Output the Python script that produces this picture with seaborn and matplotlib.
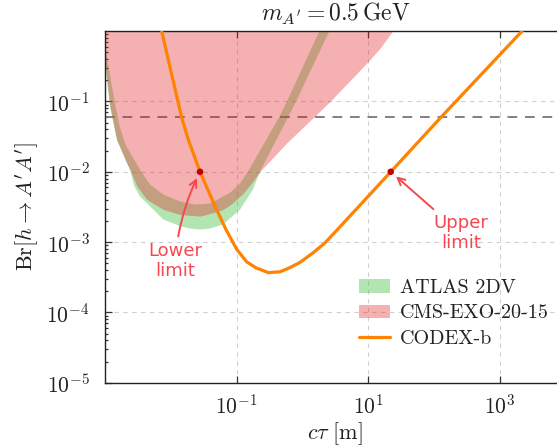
import numpy as np
import matplotlib
matplotlib.use("Agg")
import matplotlib.pyplot as plt
import seaborn as sns
from matplotlib.patches import Patch
from matplotlib.lines import Line2D
from matplotlib.ticker import FixedLocator, NullLocator, LogLocator, NullFormatter

# ---------------- data ----------------
# CODEX-b sensitivity curve
codex_ctau = [0.00728, 0.01026, 0.01466, 0.01845, 0.0278, 0.0470, 0.0690, 0.1005,
              0.1422, 0.197, 0.303, 0.457, 0.649, 0.920, 1.466, 2.203, 3.32, 22.0,
              125.6, 2173.0]
codex_br = [1.0, 0.247, 0.0587, 0.0286, 0.0100, 0.00324, 0.00151, 0.000788,
            0.000524, 0.000431, 0.000368, 0.000378, 0.000434, 0.000515, 0.000708,
            0.000975, 0.001466, 0.00998, 0.0587, 1.0]

# ATLAS 2DV band: outer (lower) edge and inner (upper) edge
atlas_out_ctau = [0.00100, 0.00119, 0.00151, 0.00214, 0.00240, 0.00276, 0.00340, 0.00483,
                  0.00769, 0.0138, 0.0196, 0.0278, 0.0394, 0.0621, 0.113, 0.177, 0.227,
                  0.604, 0.800, 2.564]
atlas_out_br = [0.343, 0.0849, 0.0286, 0.0134, 0.0107, 0.00637, 0.00445, 0.00324,
                0.00210, 0.00169, 0.00156, 0.00151, 0.00156, 0.00178, 0.00291, 0.00560, 0.01016,
                0.0593, 0.100, 1.0]
atlas_in_ctau = [0.00100, 0.00119, 0.00142, 0.00169, 0.00208, 0.00267, 0.00340, 0.00483,
                 0.00769, 0.0138, 0.0233, 0.0394, 0.0794, 0.113, 0.149, 0.441, 0.583, 1.807]
atlas_in_br = [0.637, 0.239, 0.0927, 0.0424, 0.0236, 0.0159, 0.0107, 0.00658,
               0.00475, 0.00378, 0.00343, 0.00354, 0.00502, 0.00681, 0.01007, 0.0593, 0.100, 1.0]

# CMS-EXO-20-15 excluded region: lower boundary
cms_ctau = [0.00100, 0.00119, 0.00151, 0.00214, 0.00240, 0.00306, 0.00431, 0.00769,
            0.0138, 0.0278, 0.0394, 0.0621, 0.0851, 0.125, 0.177, 0.227, 0.577, 1.466,
            2.624, 9.48, 15.1, 23.4]
cms_br = [0.343, 0.0849, 0.0286, 0.0134, 0.0107, 0.00622, 0.00404, 0.00291,
          0.00247, 0.00234, 0.00255, 0.00291, 0.00354, 0.00491, 0.00733, 0.01016, 0.0257, 0.0593,
          0.100, 0.351, 0.571, 1.0]

# marked lower / upper limits
limit_ctau = [0.0278, 22.0]
limit_br = [0.01, 0.01]

br_invisible = 0.06

x_ticks = [1e-1, 1e1, 1e3]
y_ticks = [1e-5, 1e-4, 1e-3, 1e-2, 1e-1]
legend_labels = ["ATLAS 2DV", "CMS-EXO-20-15", "CODEX-b"]

# ---------------- style ----------------
sns.set_style("ticks")
plt.rcParams.update({
    "font.family": ["cmr10", "DejaVu Serif"],
    "mathtext.fontset": "cm",
    "axes.formatter.use_mathtext": True,
    "axes.unicode_minus": True,
})

green = "#41be41"
red = "#e41a1c"
orange = "#ff8200"
hand = "#f5474f"

fig = plt.figure(figsize=(5.57, 4.46), dpi=100)
ax = fig.add_axes([105 / 557, (446 - 382.7) / 446, 460.6 / 557, 351.5 / 446])
ax.set_xscale("log")
ax.set_yscale("log")
ax.set_xlim(1e-3, 1e4)
ax.set_ylim(1e-5, 1)

ax.set_axisbelow(True)
ax.grid(True, which="major", color="#d0d0d0", linestyle=(0, (4, 4)), linewidth=0.8)
ax.axhline(br_invisible, color="#808080", linestyle=(0, (5, 4)), linewidth=1.4, zorder=0.8)

ax.fill(np.r_[atlas_out_ctau, atlas_in_ctau[::-1]],
        np.r_[atlas_out_br, atlas_in_br[::-1]],
        color=green, alpha=0.4, lw=0, zorder=1)
ax.fill_between(cms_ctau, cms_br, 1.0, color=red, alpha=0.34, lw=0, zorder=1.1)

sns.lineplot(x=codex_ctau, y=codex_br, ax=ax, color=orange, lw=2.3, sort=False,
             estimator=None, zorder=3)
sns.scatterplot(x=limit_ctau, y=limit_br, ax=ax, color="#c00000", s=22,
                edgecolor="none", zorder=4)

# ticks
ax.xaxis.set_major_locator(FixedLocator(x_ticks))
ax.xaxis.set_minor_locator(NullLocator())
ax.yaxis.set_major_locator(FixedLocator(y_ticks))
ax.yaxis.set_minor_locator(LogLocator(base=10, subs=np.arange(2, 10), numticks=20))
ax.yaxis.set_minor_formatter(NullFormatter())
ax.tick_params(which="both", direction="in", top=True, right=True, width=0.9,
               color="#333333", labelsize=15.5, labelcolor="#222222")
ax.tick_params(which="major", length=5)
ax.tick_params(which="minor", length=2.5)
ax.tick_params(axis="y", pad=11)
ax.tick_params(axis="x", pad=8)
for s in ax.spines.values():
    s.set_color("#222222")
    s.set_linewidth(1.0)

ax.set_xlabel(r"$c\tau\ [\mathrm{m}]$", fontsize=16, color="#222222", labelpad=2)
ax.set_ylabel(r"$\mathrm{Br}[h\to A^{\prime}A^{\prime}]$", fontsize=16, color="#222222")
ax.set_title(r"$m_{A^{\prime}} = 0.5\,\mathrm{GeV}$", fontsize=17, color="#222222", pad=7)

handles = [Patch(facecolor=green, alpha=0.4, lw=0),
           Patch(facecolor=red, alpha=0.34, lw=0),
           Line2D([], [], color=orange, lw=2.3)]
ax.legend(handles, legend_labels, loc="upper left", bbox_to_anchor=(0.535, 0.318),
          frameon=False, fontsize=14.5, handlelength=1.5, handleheight=0.65,
          handletextpad=0.5, labelspacing=0.38, borderaxespad=0, labelcolor="#222222")

ax.annotate("Lower\nlimit", xy=(limit_ctau[0], limit_br[0]), xycoords="data",
            xytext=(0.152, 0.345), textcoords="axes fraction", ha="center", va="center",
            color=hand, fontsize=13, family="DejaVu Sans", linespacing=1.15, zorder=5,
            arrowprops=dict(arrowstyle="->", color=hand, lw=1.4, shrinkA=2, shrinkB=5,
                            connectionstyle="arc3,rad=-0.1"))
ax.annotate("Upper\nlimit", xy=(limit_ctau[1], limit_br[1]), xycoords="data",
            xytext=(0.773, 0.425), textcoords="axes fraction", ha="center", va="center",
            color=hand, fontsize=13, family="DejaVu Sans", linespacing=1.15, zorder=5,
            arrowprops=dict(arrowstyle="->", color=hand, lw=1.4, shrinkA=2, shrinkB=5))

fig.savefig("out.png", dpi=100)
